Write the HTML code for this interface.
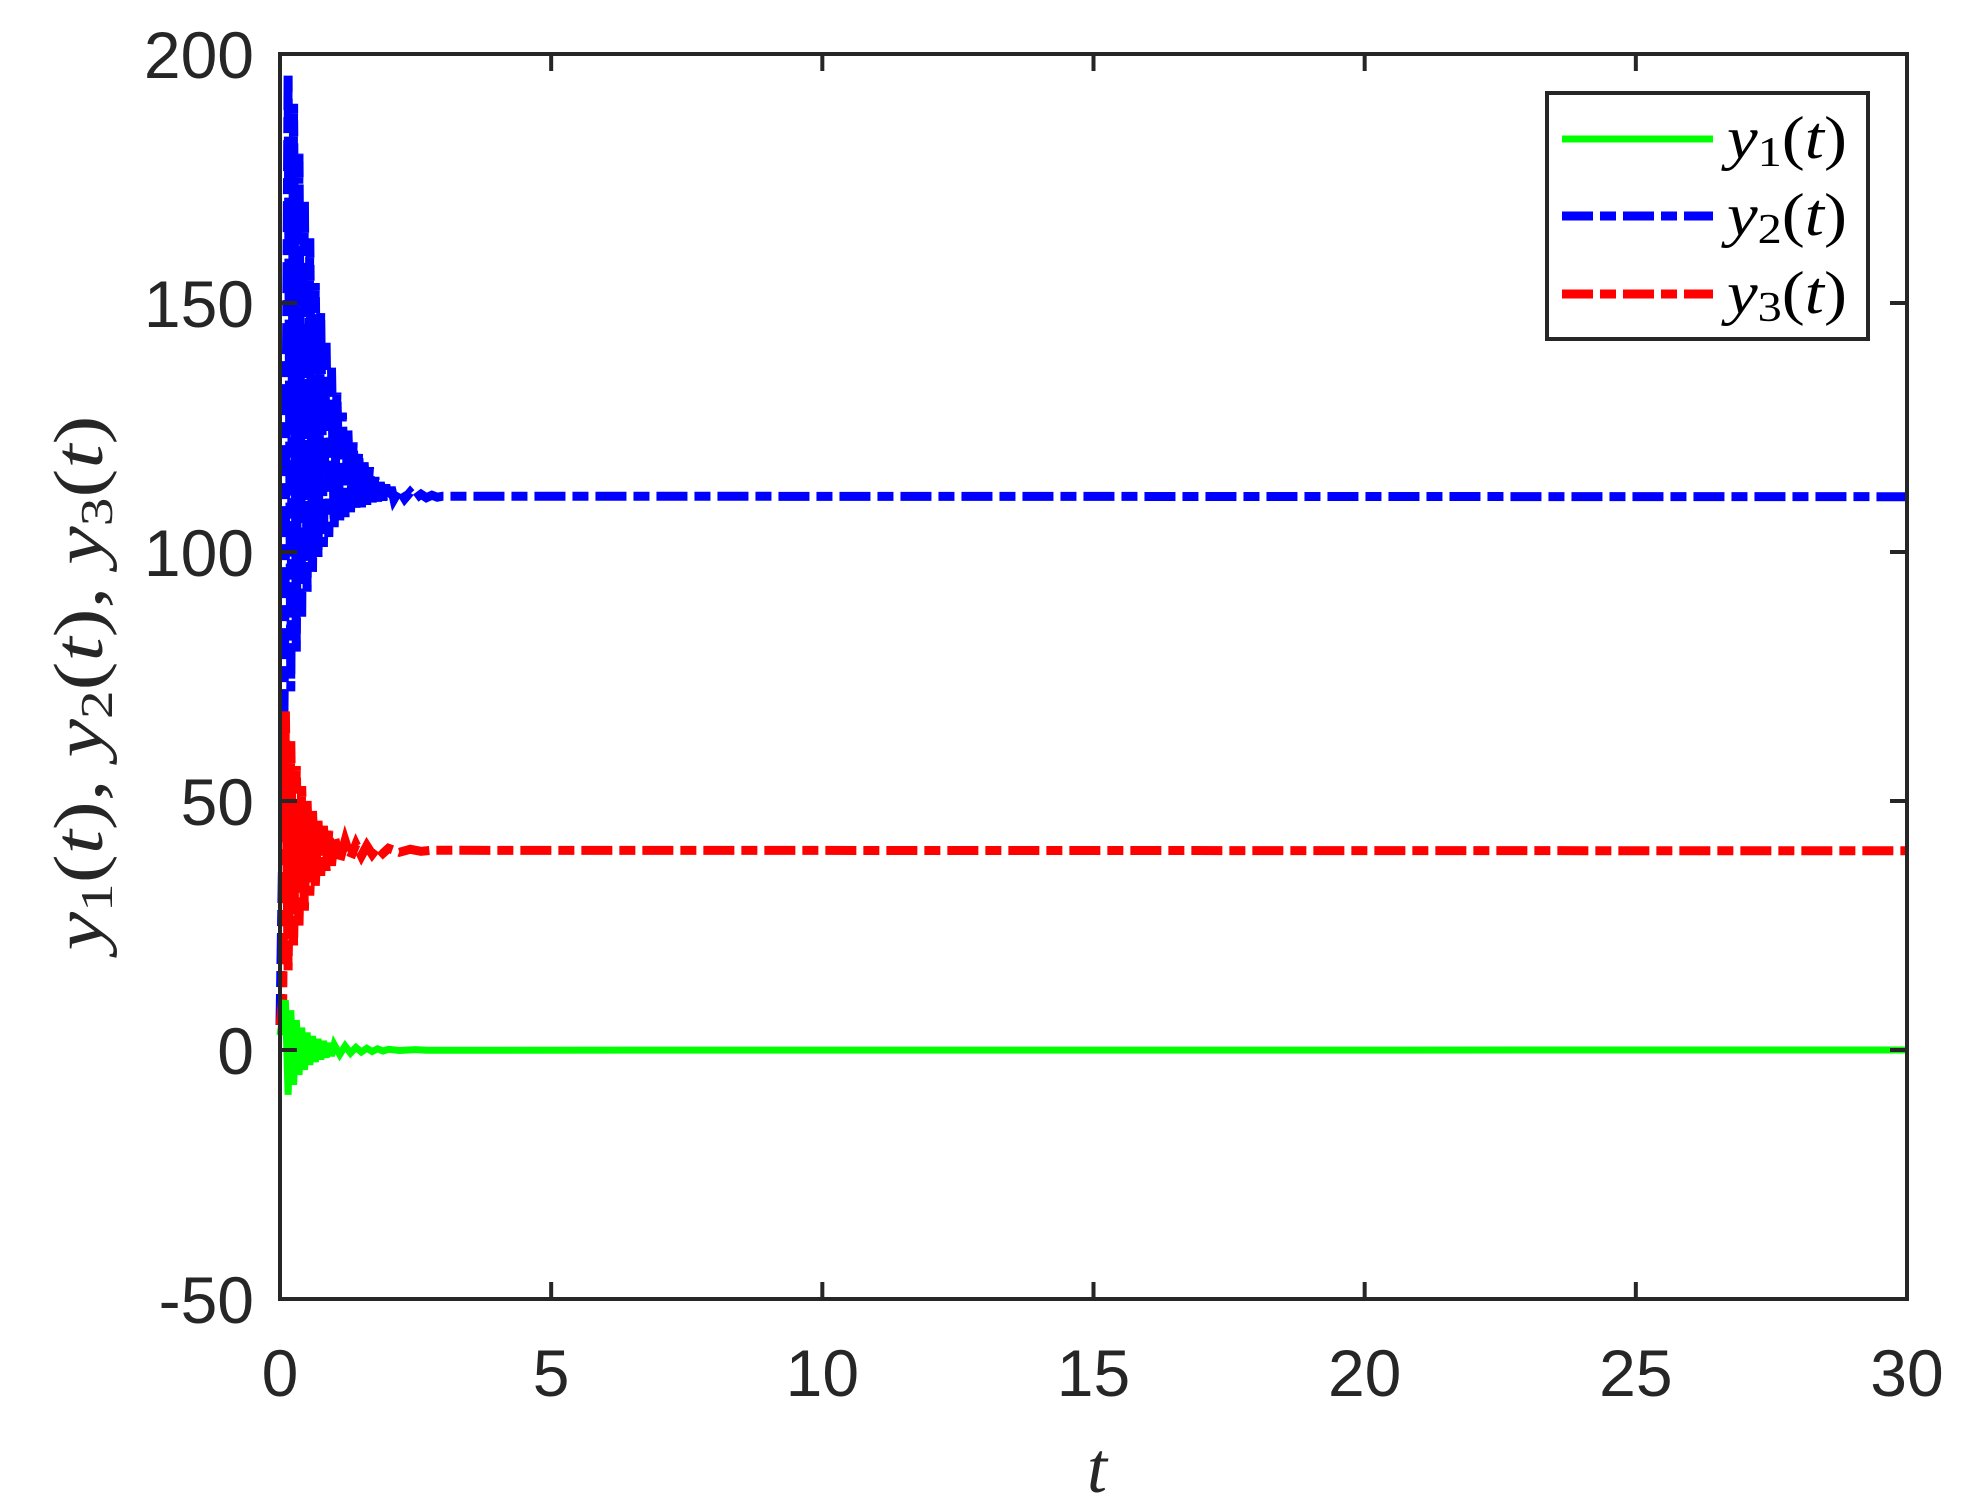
<!DOCTYPE html>
<html><head><meta charset="utf-8"><style>
html,body{margin:0;padding:0;background:#fff;}
svg{display:block;}
</style></head><body>
<svg id="chart" width="1967" height="1511" xmlns="http://www.w3.org/2000/svg">
<rect width="1967" height="1511" fill="#fff"/>
<g id="plot"></g>
<rect x="280" y="54" width="1627" height="1245" fill="none" stroke="#262626" stroke-width="4"/>
<g id="ticks" stroke="#262626" stroke-width="4"></g>
<g id="labels" font-family="Liberation Sans, sans-serif" font-size="66" fill="#262626"></g>
<text transform="translate(102,683) rotate(-90)" text-anchor="middle" font-family="Liberation Serif, serif" font-size="70" fill="#262626" textLength="535" lengthAdjust="spacingAndGlyphs"><tspan font-style="italic">y</tspan><tspan font-size="46" dy="10">1</tspan><tspan dy="-10">(</tspan><tspan font-style="italic">t</tspan>), <tspan font-style="italic">y</tspan><tspan font-size="46" dy="10">2</tspan><tspan dy="-10">(</tspan><tspan font-style="italic">t</tspan>), <tspan font-style="italic">y</tspan><tspan font-size="46" dy="10">3</tspan><tspan dy="-10">(</tspan><tspan font-style="italic">t</tspan>)</text>
<text x="1097" y="1492" text-anchor="middle" font-family="Liberation Serif, serif" font-style="italic" font-size="72" fill="#262626">t</text>
<g>
<rect x="1547" y="93" width="321" height="246" fill="#fff" stroke="#262626" stroke-width="4"/>
<line x1="1562" y1="139" x2="1713" y2="139" stroke="#00ff00" stroke-width="7"/>
<line x1="1562" y1="216" x2="1713" y2="216" stroke="#0000ff" stroke-width="9" stroke-dasharray="31 7 16 7"/>
<line x1="1562" y1="294" x2="1713" y2="294" stroke="#ff0000" stroke-width="9" stroke-dasharray="31 7 16 7"/>
<text x="1727" y="158" font-family="Liberation Serif, serif" font-size="60" fill="#000" textLength="120" lengthAdjust="spacingAndGlyphs"><tspan font-style="italic">y</tspan><tspan font-size="42" dy="8">1</tspan><tspan dy="-8">(</tspan><tspan font-style="italic">t</tspan>)</text>
<text x="1727" y="235" font-family="Liberation Serif, serif" font-size="60" fill="#000" textLength="120" lengthAdjust="spacingAndGlyphs"><tspan font-style="italic">y</tspan><tspan font-size="42" dy="8">2</tspan><tspan dy="-8">(</tspan><tspan font-style="italic">t</tspan>)</text>
<text x="1727" y="313" font-family="Liberation Serif, serif" font-size="60" fill="#000" textLength="120" lengthAdjust="spacingAndGlyphs"><tspan font-style="italic">y</tspan><tspan font-size="42" dy="8">3</tspan><tspan dy="-8">(</tspan><tspan font-style="italic">t</tspan>)</text>
</g>
</svg>
<script>
const xTicks = [0, 5, 10, 15, 20, 25, 30];
const yTicks = [-50, 0, 50, 100, 150, 200];
const y1T = [0,0.1,0.15,0.2,0.25,0.3,0.35,0.4,0.45,0.5,0.55,0.6,0.65,0.7,0.75,0.8,0.85,0.9,0.95,1.0,1.1,1.2,1.3,1.4,1.5,1.6,1.7,1.8,1.9,2.0,2.2,2.5,2.7,30];
const y1V = [3,10,-9,8,-7,6,-5,4.5,-4,3.5,-3,2.8,-2.4,2.2,-1.9,1.8,-1.5,1.4,-1.2,1.1,-0.9,0.8,-0.6,0.5,-0.4,0.35,-0.3,0.25,-0.2,0.15,-0.1,0.08,-0.05,0];
const y2T = [0,0.05,0.1,0.15,0.2,0.25,0.3,0.35,0.4,0.45,0.5,0.55,0.6,0.65,0.7,0.75,0.8,0.85,0.9,0.95,1.0,1.05,1.1,1.15,1.2,1.25,1.3,1.35,1.4,1.45,1.5,1.55,1.6,1.65,1.7,1.75,1.8,1.85,1.9,1.95,2.0,2.05,2.1,2.2,2.3,2.4,2.5,2.6,2.7,2.8,2.9,3.0,30];
const y2V = [5,40,100,196,72,190,80,180,87,171,92,163,96,154,99,148,101,142,103,137,105,132,106,128,107,125,108,122,108.5,120,109,118,109.5,117,110,115,110.2,114,110.4,113.5,110.5,113,110.6,112.5,110.7,112,110.8,111.6,110.9,111.4,111,111.2,111.1];
const y3T = [0,0.05,0.1,0.15,0.2,0.25,0.3,0.35,0.4,0.45,0.5,0.55,0.6,0.65,0.7,0.75,0.8,0.85,0.9,0.95,1.0,1.1,1.2,1.3,1.4,1.5,1.6,1.7,1.8,1.9,2.0,2.2,2.4,2.6,2.8,30];
const y3V = [5,10,68,16,62,21,57,25,53,28,50,31,48,33,46,35,45,36,44,37,43,38,42,38.6,41.3,39,41,39.3,40.7,39.5,40.5,39.7,40.3,39.9,40.1,40];

const NS = 'http://www.w3.org/2000/svg';
const X0 = 280, X1 = 1907, Y0 = 54, Y1 = 1299;
function sx(t){ return X0 + (t - 0) / 30 * (X1 - X0); }
function sy(v){ return Y1 - (v + 50) / 250 * (Y1 - Y0); }

const ticks = document.getElementById('ticks');
const labels = document.getElementById('labels');
xTicks.forEach(t => {
  const x = sx(t);
  [[Y1, Y1 - 17], [Y0, Y0 + 17]].forEach(p => {
    const l = document.createElementNS(NS, 'line');
    l.setAttribute('x1', x); l.setAttribute('x2', x);
    l.setAttribute('y1', p[0]); l.setAttribute('y2', p[1]);
    
    
    ticks.appendChild(l);
  });
  const tx = document.createElementNS(NS, 'text');
  tx.setAttribute('x', x); tx.setAttribute('y', 1396);
  tx.setAttribute('text-anchor', 'middle');
  tx.textContent = t;
  
  
  labels.appendChild(tx);
});
yTicks.forEach(v => {
  const y = sy(v);
  [[X0, X0 + 17], [X1, X1 - 17]].forEach(p => {
    const l = document.createElementNS(NS, 'line');
    l.setAttribute('x1', p[0]); l.setAttribute('x2', p[1]);
    l.setAttribute('y1', y); l.setAttribute('y2', y);
    
    
    ticks.appendChild(l);
  });
  const tx = document.createElementNS(NS, 'text');
  tx.setAttribute('x', 254); tx.setAttribute('y', y + 24);
  tx.setAttribute('text-anchor', 'end');
  tx.textContent = v;
  
  
  labels.appendChild(tx);
});

const plot = document.getElementById('plot');
function series(T, V, color, width, dash, name){
  const p = document.createElementNS(NS, 'polyline');
  p.setAttribute('points', T.map((t, i) => sx(t).toFixed(1) + ',' + sy(V[i]).toFixed(1)).join(' '));
  p.setAttribute('fill', 'none');
  p.setAttribute('stroke', color);
  p.setAttribute('stroke-width', width);
  p.setAttribute('stroke-linejoin', 'miter');
  if (dash) p.setAttribute('stroke-dasharray', dash);
  
  
  plot.appendChild(p);
}
series(y2T, y2V, '#0000ff', 9, '31 7 16 7', 'series-y2');
series(y3T, y3V, '#ff0000', 9, '31 7 16 7', 'series-y3');
series(y1T, y1V, '#00ff00', 7, null, 'series-y1');
</script>
</body></html>
